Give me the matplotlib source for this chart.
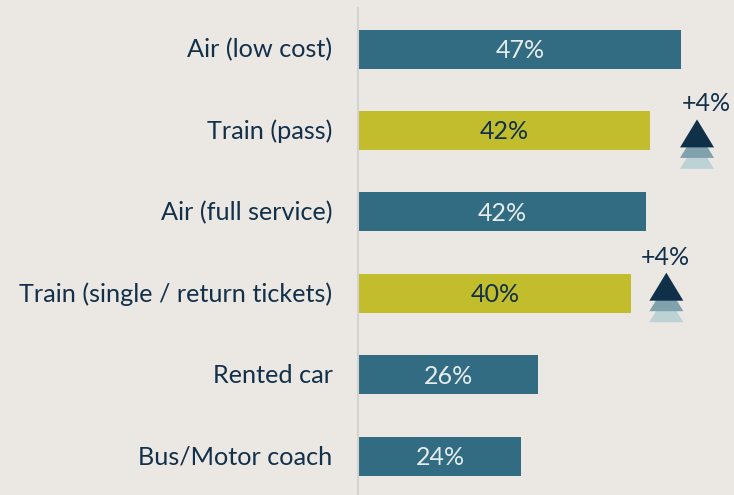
import matplotlib
matplotlib.use("Agg")
import matplotlib.pyplot as plt
from matplotlib.patches import Polygon
from matplotlib.transforms import ScaledTranslation

plt.rcParams["font.family"] = ["Lato", "DejaVu Sans"]

categories = ["Air (low cost)", "Train (pass)", "Air (full service)",
              "Train (single / return tickets)", "Rented car", "Bus/Motor coach"]
values = [47.0, 42.4, 41.9, 39.7, 26.1, 23.6]
labels = ["47%", "42%", "42%", "40%", "26%", "24%"]
is_train = [False, True, False, True, False, False]
changes = ["", "+4%", "", "+4%", "", ""]

bg = "#ebe8e4"
teal = "#326c82"
olive = "#c2bd2c"
navy = "#13304a"

W, H = 734, 495
px_x = 1 / 6.85   # data units per pixel
px_y = 1 / 81.4

fig = plt.figure(figsize=(W / 100, H / 100), dpi=100, facecolor=bg)
ax = fig.add_axes([358.2 / W, 0, 1 - 358.2 / W, (H - 8) / H], facecolor=bg)
ax.set_xlim(0, (W - 358.2) * px_x)
ax.set_ylim(446 * px_y, -41 * px_y)

ypos = range(len(categories))
ax.barh(ypos, values, left=1.2 * px_x, height=39 * px_y,
        color=[olive if t else teal for t in is_train])
ax.set_xticks([])
ax.set_yticks(list(ypos), categories)
ax.tick_params(axis="y", length=0, pad=18.5, labelsize=18.2, labelcolor=navy)
shift_up = ScaledTranslation(0, 1.2 / 100, fig.dpi_scale_trans)
for lab in ax.get_yticklabels():
    lab.set_transform(lab.get_transform() + shift_up)
for s in ["top", "right", "bottom"]:
    ax.spines[s].set_visible(False)
ax.spines["left"].set_color("#d5d3d0")
ax.spines["left"].set_linewidth(1.5)

# value labels and the "+4%" arrows beside the train bars
tri_offset = {1: 48.4, 3: 36.2}
text_offset = {1: 9.6, 3: -1.3}
raise_by = {1: 0, 3: 9.5}
for i, v in enumerate(values):
    ax.text(v / 2 + 1 * px_x, i + 1.5 * px_y, labels[i], ha="center", va="center", fontsize=18,
            color=navy if is_train[i] else "#e6ebec")
    if changes[i]:
        xc = v + tri_offset[i] * px_x
        hw = 17 * px_x
        yc = i - raise_by[i] * px_y
        ax.text(xc + text_offset[i] * px_x, yc - 26.5 * px_y, changes[i], ha="center", va="center",
                fontsize=18, color=navy)
        for dy, col in [(21.5, "#bdd2d5"), (10.5, "#7fa2ad"), (0, "#10304a")]:
            top = yc + (dy - 11) * px_y
            base = yc + (dy + 17) * px_y
            ax.add_patch(Polygon([(xc - hw, base), (xc, top), (xc + hw, base)],
                                 closed=True, facecolor=col, edgecolor="none"))

fig.savefig("out.png", dpi=100, facecolor=bg)
